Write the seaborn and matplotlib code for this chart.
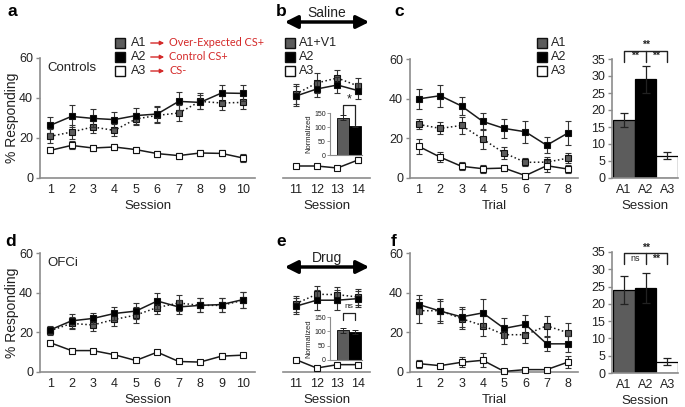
import matplotlib
matplotlib.use('Agg')
import matplotlib.pyplot as plt
from matplotlib.lines import Line2D
import seaborn as sns

# ---- data ----
sessions_train = [1, 2, 3, 4, 5, 6, 7, 8, 9, 10]
sessions_test = [11, 12, 13, 14]
trials = [1, 2, 3, 4, 5, 6, 7, 8]
bar_cues = ['A1', 'A2', 'A3']
inset_cues = ['A1', 'A2']

# a: controls, training
a_A1 = [20.8, 23.0, 25.5, 23.8, 29.5, 31.3, 32.5, 38.3, 37.5, 37.8]
a_A1_err = [3.5, 3.5, 3.0, 3.0, 3.0, 4.0, 4.0, 4.0, 3.5, 3.5]
a_A2 = [26.3, 30.8, 29.8, 29.2, 31.2, 32.0, 38.3, 37.8, 42.5, 42.3]
a_A2_err = [4.0, 5.5, 4.5, 4.0, 4.0, 4.0, 4.5, 3.5, 4.0, 4.0]
a_A3 = [13.8, 16.3, 15.0, 15.5, 14.2, 12.2, 11.2, 12.5, 12.3, 10.0]
a_A3_err = [1.5, 2.0, 1.5, 1.5, 1.5, 1.5, 1.5, 1.5, 1.5, 1.8]

# b: controls, compound sessions
b_A1 = [42.0, 47.5, 50.0, 46.0]
b_A1_err = [5.0, 5.0, 4.0, 4.0]
b_A2 = [41.0, 44.5, 46.5, 43.7]
b_A2_err = [5.0, 4.0, 4.0, 4.0]
b_A3 = [6.0, 6.0, 5.0, 9.0]
b_A3_err = [0.5, 0.5, 0.5, 1.3]
b_inset = [133, 102]
b_inset_err = [9, 3]

# c: controls, test trials
c_A1 = [27.0, 25.0, 26.5, 19.6, 12.6, 7.9, 8.0, 10.0]
c_A1_err = [2.5, 3.0, 4.5, 5.0, 3.0, 2.0, 2.5, 2.5]
c_A2 = [39.9, 41.5, 36.3, 28.5, 25.0, 23.3, 16.5, 22.7]
c_A2_err = [5.0, 5.5, 4.5, 4.5, 5.0, 5.5, 4.0, 6.0]
c_A3 = [15.9, 10.5, 5.9, 4.7, 5.0, 1.2, 6.2, 4.5]
c_A3_err = [4.0, 2.5, 2.0, 2.0, 1.5, 1.0, 3.0, 2.0]
c_bars = [17.0, 29.0, 6.5]
c_bars_err = [2.0, 4.0, 1.0]

# d: OFCi, training
d_A1 = [20.8, 24.5, 23.7, 26.5, 28.7, 32.5, 34.8, 33.6, 33.6, 36.1]
d_A1_err = [2.0, 3.0, 3.0, 3.5, 4.0, 3.5, 4.0, 3.5, 3.5, 4.0]
d_A2 = [21.2, 25.8, 27.0, 29.5, 30.7, 35.8, 32.8, 33.6, 34.0, 36.5]
d_A2_err = [2.0, 3.5, 3.0, 3.5, 4.0, 4.0, 3.5, 3.5, 3.5, 4.0]
d_A3 = [14.8, 10.8, 10.8, 8.7, 5.8, 10.0, 5.3, 5.0, 8.0, 8.5]
d_A3_err = [1.5, 1.0, 0.5, 1.0, 0.5, 1.0, 0.5, 0.5, 1.5, 1.0]

# e: OFCi, compound sessions
e_A1 = [34.5, 39.2, 39.0, 37.8]
e_A1_err = [4.0, 4.0, 4.0, 4.0]
e_A2 = [33.2, 36.2, 36.2, 37.0]
e_A2_err = [4.0, 5.0, 5.0, 4.0]
e_A3 = [6.2, 2.0, 3.7, 3.7]
e_A3_err = [0.5, 0.5, 0.5, 0.5]
e_inset = [103, 97]
e_inset_err = [9, 6]

# f: OFCi, test trials
f_A1 = [30.9, 30.9, 26.9, 23.4, 18.8, 18.8, 23.3, 19.8]
f_A1_err = [6.0, 6.0, 5.0, 5.0, 4.5, 4.0, 5.0, 5.0]
f_A2 = [34.0, 30.7, 27.8, 29.8, 22.0, 24.0, 14.2, 14.2]
f_A2_err = [5.0, 5.0, 5.0, 7.0, 5.0, 4.5, 3.5, 4.0]
f_A3 = [4.2, 3.2, 4.9, 5.9, 0.3, 1.2, 1.2, 5.0]
f_A3_err = [2.0, 0.5, 2.5, 3.5, 0.3, 0.5, 0.5, 3.0]
f_bars = [24.0, 24.5, 3.3]
f_bars_err = [4.0, 4.3, 1.0]

sns.set_style('ticks')
plt.rcParams['font.family'] = ['Liberation Sans', 'DejaVu Sans']

W, H = 685, 407
SPINE = '#8c8c8c'
TXT = '#222222'
GREY = '#5c5c5c'
RED = '#d42a2a'
cue_style = {
    'A1': dict(ls=':', face=GREY, z=3),
    'A2': dict(ls='-', face='black', z=4),
    'A3': dict(ls='-', face='white', z=5),
}

fig = plt.figure(figsize=(W / 100, H / 100), dpi=100)


def add_ax(x0, y0, x1, y1):
    return fig.add_axes([x0 / W, 1 - y1 / H, (x1 - x0) / W, (y1 - y0) / H])


def fx(x):
    return x / W


def fy(y):
    return 1 - y / H


def style_ax(ax, left=True):
    sns.despine(ax=ax, left=not left)
    for s in ['left', 'bottom']:
        ax.spines[s].set_color(SPINE)
        ax.spines[s].set_linewidth(1.2)
    ax.tick_params(axis='x', length=0, pad=4, labelsize=9, labelcolor=TXT)
    ax.tick_params(axis='y', length=3, width=1, color=SPINE, pad=2,
                   labelsize=9, labelcolor=TXT)
    if not left:
        ax.set_yticks([])
    ax.set_facecolor('none')


def draw_lines(ax, x, series):
    for key, y, e in series:
        st = cue_style[key]
        ax.errorbar(x, y, yerr=e, fmt='none', ecolor='#333333', elinewidth=0.8,
                    capsize=2, capthick=0.8, zorder=st['z'], clip_on=False)
        sns.lineplot(x=x, y=y, ax=ax, color='#1a1a1a', linestyle=st['ls'], lw=1.1,
                     marker='s', markersize=4.5, markerfacecolor=st['face'],
                     markeredgecolor='#111111', markeredgewidth=0.8,
                     zorder=st['z'], clip_on=False)


def line_panel(box, x, series, xlim, xlabel, left=True):
    ax = add_ax(*box)
    draw_lines(ax, x, series)
    ax.set_xlim(*xlim)
    ax.set_ylim(0, 60)
    ax.set_xticks(x)
    ax.set_yticks([0, 20, 40, 60])
    style_ax(ax, left)
    ax.set_xlabel(xlabel, fontsize=9.5, color=TXT, labelpad=3)
    ax.set_ylabel('')
    return ax


def bar_panel(box, vals, errs, brackets):
    ax = add_ax(*box)
    sns.barplot(x=bar_cues, y=vals, hue=bar_cues, palette=[GREY, 'black', 'white'],
                width=1.0, edgecolor='black', linewidth=0.9, legend=False, ax=ax)
    ax.errorbar(range(3), vals, yerr=errs, fmt='none', ecolor='#222222',
                elinewidth=0.9, capsize=3, capthick=0.9, zorder=5)
    ax.set_xlim(-0.55, 2.5)
    ax.set_ylim(0, 35)
    ax.set_yticks(range(0, 36, 5))
    style_ax(ax)
    ax.set_xlabel('Session', fontsize=9.5, color=TXT, labelpad=3)
    ax.set_ylabel('')
    top, leg, lab_l, lab_r, lab_top = brackets
    kw = dict(color='#222222', lw=1.0, clip_on=False)
    ax.plot([0, 0, 2, 2], [leg, top, top, leg], **kw)
    ax.plot([1, 1], [top, leg], **kw)
    ax.text(1, top + 0.2, '**', ha='center', va='bottom', fontsize=7.5,
            fontweight='bold', color=TXT)
    ax.text(0.5, top - 1.5, lab_l, ha='center', va='center', fontsize=7.5 if lab_l == '**' else 6.5,
            fontweight='bold' if lab_l == '**' else 'normal', color=TXT)
    ax.text(1.5, top - 1.5, lab_r, ha='center', va='center', fontsize=7.5,
            fontweight='bold', color=TXT)
    return ax


def inset_panel(box, vals, errs, label, top, legs, lab_y):
    ax = add_ax(*box)
    sns.barplot(x=inset_cues, y=vals, hue=inset_cues, palette=[GREY, 'black'],
                width=1.0, edgecolor='black', linewidth=0.6, legend=False, ax=ax)
    ax.errorbar(range(2), vals, yerr=errs, fmt='none', ecolor='#222222',
                elinewidth=0.7, capsize=2, capthick=0.7, zorder=5)
    ax.set_xlim(-1.08, 1.58)
    ax.set_ylim(0, 150)
    ax.set_yticks([0, 50, 100, 150])
    sns.despine(ax=ax)
    for s in ['left', 'bottom']:
        ax.spines[s].set_color(SPINE)
        ax.spines[s].set_linewidth(0.8)
    ax.tick_params(axis='x', length=0, labelbottom=False)
    ax.tick_params(axis='y', length=2, width=0.6, color=SPINE, pad=1,
                   labelsize=5, labelcolor=TXT)
    ax.set_xlabel('')
    ax.set_ylabel('Normalized', fontsize=5.5, color=TXT, labelpad=1)
    ax.set_facecolor('none')
    kw = dict(color='#222222', lw=0.9, clip_on=False)
    ax.plot([0, 0, 1, 1], [legs[0], top, top, legs[1]], **kw)
    ax.text(0.5, lab_y, label, ha='center', va='center',
            fontsize=9 if label == '*' else 6, color=TXT)
    return ax


# ---- top row (controls) ----
ax_a = line_panel((40, 58, 255, 178), sessions_train,
                  [('A1', a_A1, a_A1_err), ('A2', a_A2, a_A2_err), ('A3', a_A3, a_A3_err)],
                  (0.53, 10.56), 'Session')
ax_a.set_ylabel('% Responding', fontsize=10, color=TXT, labelpad=0)
ax_a.text(0.035, 0.92, 'Controls', transform=ax_a.transAxes, fontsize=9.5,
          color=TXT, va='center')

line_panel((283, 58, 370, 178), sessions_test,
           [('A1', b_A1, b_A1_err), ('A2', b_A2, b_A2_err), ('A3', b_A3, b_A3_err)],
           (10.37, 14.58), 'Session', left=False)
inset_panel((330, 113, 362, 155), b_inset, b_inset_err, '*', 178, (143, 108), 198)

line_panel((410, 59, 578, 178), trials,
           [('A1', c_A1, c_A1_err), ('A2', c_A2, c_A2_err), ('A3', c_A3, c_A3_err)],
           (0.58, 8.47), 'Trial')
bar_panel((612, 59, 678, 178), c_bars, c_bars_err, (37.4, 34.0, '**', '**', 38.2))

# ---- bottom row (OFCi) ----
ax_d = line_panel((40, 253, 255, 372), sessions_train,
                  [('A1', d_A1, d_A1_err), ('A2', d_A2, d_A2_err), ('A3', d_A3, d_A3_err)],
                  (0.53, 10.56), 'Session')
ax_d.set_ylabel('% Responding', fontsize=10, color=TXT, labelpad=0)
ax_d.text(0.035, 0.92, 'OFCi', transform=ax_d.transAxes, fontsize=9.5,
          color=TXT, va='center')

line_panel((283, 253, 370, 372), sessions_test,
           [('A1', e_A1, e_A1_err), ('A2', e_A2, e_A2_err), ('A3', e_A3, e_A3_err)],
           (10.37, 14.58), 'Session', left=False)
inset_panel((330, 317, 362, 360), e_inset, e_inset_err, 'ns', 165, (141, 140), 185)

line_panel((410, 253, 578, 372), trials,
           [('A1', f_A1, f_A1_err), ('A2', f_A2, f_A2_err), ('A3', f_A3, f_A3_err)],
           (0.58, 8.47), 'Trial')
bar_panel((612, 252, 678, 373), f_bars, f_bars_err, (34.6, 31.4, 'ns', '**', 35.0))

# ---- panel letters ----
for lab, x, y in [('a', 8, 12), ('b', 276, 12), ('c', 394, 12),
                  ('d', 5, 242), ('e', 276, 242), ('f', 391, 242)]:
    fig.text(fx(x), fy(y), lab, fontsize=12.5, fontweight='bold', va='center',
             ha='left', color='black')

# ---- Saline / Drug arrows ----
for txt, ty, ay in [('Saline', 13, 22), ('Drug', 258, 267)]:
    fig.text(fx(327), fy(ty), txt, fontsize=10, ha='center', va='center', color=TXT)
    fig.add_artist(matplotlib.patches.FancyArrowPatch(
        (fx(282), fy(ay)), (fx(372), fy(ay)), transform=fig.transFigure,
        arrowstyle='<|-|>', mutation_scale=19, lw=2.5, color='black'))


# ---- legends ----
def legend_marker(x, y, key):
    fig.add_artist(Line2D([fx(x)], [fy(y)], transform=fig.transFigure, marker='s',
                          markersize=6.5, markerfacecolor=cue_style[key]['face'],
                          markeredgecolor='#111111', markeredgewidth=1.0, linestyle='none'))


leg_y = [43, 57, 71]
red_labels = ['Over-Expected CS+', 'Control CS+', 'CS-']
for key, y, red in zip(['A1', 'A2', 'A3'], leg_y, red_labels):
    legend_marker(120, y, key)
    fig.text(fx(131), fy(y), key, fontsize=9, va='center', color=TXT)
    fig.add_artist(matplotlib.patches.FancyArrowPatch(
        (fx(148), fy(y)), (fx(167), fy(y)), transform=fig.transFigure,
        arrowstyle='-|>', mutation_scale=6, lw=1.0, color=RED))
    fig.text(fx(169), fy(y), red, fontsize=7.8, va='center', color=RED,
             family=['Lato', 'DejaVu Sans'])

for key, y, lab in zip(['A1', 'A2', 'A3'], leg_y, ['A1+V1', 'A2', 'A3']):
    legend_marker(290, y, key)
    fig.text(fx(299), fy(y), lab, fontsize=9, va='center', color=TXT)
    legend_marker(542, y, key)
    fig.text(fx(551), fy(y), key, fontsize=9, va='center', color=TXT)

fig.savefig('out.png', dpi=100)
